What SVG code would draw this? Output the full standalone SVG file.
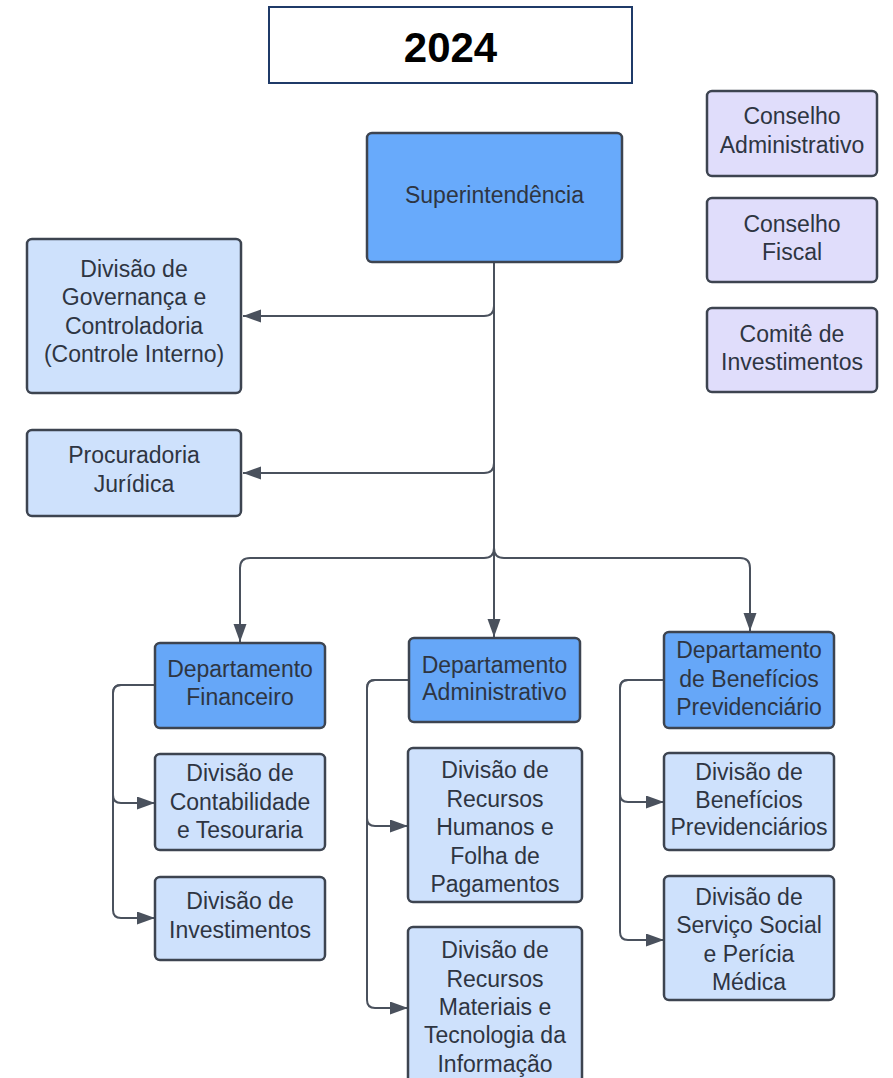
<svg xmlns="http://www.w3.org/2000/svg" width="893" height="1078" viewBox="0 0 893 1078">
<style>
.bx{stroke:#3d4450;stroke-width:2.5}
.sup{fill:#68aafb}
.dep{fill:#66a7f8}
.div{fill:#cee1fc}
.con{fill:#e0ddfb}
.t{font-family:"Liberation Sans",Arial,sans-serif;font-size:23px;fill:#2e3542;text-anchor:middle}
.ln{fill:none;stroke:#4a515d;stroke-width:2}
</style>
<defs>
<marker id="ah" markerUnits="userSpaceOnUse" markerWidth="20" markerHeight="14" refX="18" refY="6.5" orient="auto">
<path d="M0,0 L18,6.5 L0,13 z" fill="#4a515d"/>
</marker>
</defs>
<rect width="893" height="1078" fill="#ffffff"/>

<g id="title">
<rect x="269" y="7" width="363" height="76" fill="#ffffff" stroke="#1f3a68" stroke-width="2"/>
<text x="450.5" y="62" font-family="'Liberation Sans',Arial,sans-serif" font-size="42" font-weight="bold" text-anchor="middle" fill="#000">2024</text>
</g>

<g id="connectors">
<path class="ln" d="M494,262 V637" marker-end="url(#ah)"/>
<path class="ln" d="M494,306 Q494,316 484,316 H243" marker-end="url(#ah)"/>
<path class="ln" d="M494,463 Q494,473 484,473 H243" marker-end="url(#ah)"/>
<path class="ln" d="M494,548 Q494,558 484,558 H250 Q240,558 240,568 V642" marker-end="url(#ah)"/>
<path class="ln" d="M494,548 Q494,558 504,558 H740 Q750,558 750,568 V631" marker-end="url(#ah)"/>
<path class="ln" d="M155,685 H121 Q113,685 113,693 V795 Q113,803 121,803 H155" marker-end="url(#ah)"/>
<path class="ln" d="M155,685 H121 Q113,685 113,693 V910 Q113,918 121,918 H155" marker-end="url(#ah)"/>
<path class="ln" d="M409,680 H375 Q367,680 367,688 V818 Q367,826 375,826 H408" marker-end="url(#ah)"/>
<path class="ln" d="M409,680 H375 Q367,680 367,688 V1000 Q367,1008 375,1008 H408" marker-end="url(#ah)"/>
<path class="ln" d="M664,680 H628 Q620,680 620,688 V794 Q620,802 628,802 H664" marker-end="url(#ah)"/>
<path class="ln" d="M664,680 H628 Q620,680 620,688 V932 Q620,940 628,940 H664" marker-end="url(#ah)"/>
</g>

<g id="superintendencia">
<rect class="bx sup" x="367" y="133" width="255" height="129" rx="5"/>
<text class="t" x="494.5" y="203">Superintendência</text>
</g>

<g id="div-governanca">
<rect class="bx div" x="27" y="239" width="214" height="154" rx="5"/>
<text class="t" x="134" y="277">Divisão de</text>
<text class="t" x="134" y="305">Governança e</text>
<text class="t" x="134" y="334">Controladoria</text>
<text class="t" x="134" y="362">(Controle Interno)</text>
</g>

<g id="procuradoria">
<rect class="bx div" x="27" y="430" width="214" height="86" rx="5"/>
<text class="t" x="134" y="463">Procuradoria</text>
<text class="t" x="134" y="492">Jurídica</text>
</g>

<g id="conselho-adm">
<rect class="bx con" x="707" y="91" width="170" height="85" rx="5"/>
<text class="t" x="792" y="124">Conselho</text>
<text class="t" x="792" y="153">Administrativo</text>
</g>

<g id="conselho-fiscal">
<rect class="bx con" x="707" y="198" width="170" height="84" rx="5"/>
<text class="t" x="792" y="232">Conselho</text>
<text class="t" x="792" y="260">Fiscal</text>
</g>

<g id="comite">
<rect class="bx con" x="707" y="308" width="170" height="84" rx="5"/>
<text class="t" x="792" y="342">Comitê de</text>
<text class="t" x="792" y="370">Investimentos</text>
</g>

<g id="dep-financeiro">
<rect class="bx dep" x="155" y="643" width="170" height="85" rx="5"/>
<text class="t" x="240" y="677">Departamento</text>
<text class="t" x="240" y="705">Financeiro</text>
</g>

<g id="dep-administrativo">
<rect class="bx dep" x="409" y="638" width="171" height="84" rx="5"/>
<text class="t" x="494.5" y="673">Departamento</text>
<text class="t" x="494.5" y="700">Administrativo</text>
</g>

<g id="dep-beneficios">
<rect class="bx dep" x="664" y="632" width="170" height="96" rx="5"/>
<text class="t" x="749" y="658">Departamento</text>
<text class="t" x="749" y="687">de Benefícios</text>
<text class="t" x="749" y="715">Previdenciário</text>
</g>

<g id="div-contabilidade">
<rect class="bx div" x="155" y="754" width="170" height="96" rx="5"/>
<text class="t" x="240" y="781">Divisão de</text>
<text class="t" x="240" y="810">Contabilidade</text>
<text class="t" x="240" y="838">e Tesouraria</text>
</g>

<g id="div-investimentos">
<rect class="bx div" x="155" y="877" width="170" height="83" rx="5"/>
<text class="t" x="240" y="909">Divisão de</text>
<text class="t" x="240" y="938">Investimentos</text>
</g>

<g id="div-rh">
<rect class="bx div" x="408" y="748" width="174" height="154" rx="5"/>
<text class="t" x="495" y="778">Divisão de</text>
<text class="t" x="495" y="807">Recursos</text>
<text class="t" x="495" y="835">Humanos e</text>
<text class="t" x="495" y="864">Folha de</text>
<text class="t" x="495" y="892">Pagamentos</text>
</g>

<g id="div-materiais">
<rect class="bx div" x="408" y="927" width="174" height="165" rx="5"/>
<text class="t" x="495" y="958">Divisão de</text>
<text class="t" x="495" y="987">Recursos</text>
<text class="t" x="495" y="1015">Materiais e</text>
<text class="t" x="495" y="1043">Tecnologia da</text>
<text class="t" x="495" y="1072">Informação</text>
</g>

<g id="div-beneficios">
<rect class="bx div" x="664" y="753" width="170" height="97" rx="5"/>
<text class="t" x="749" y="780">Divisão de</text>
<text class="t" x="749" y="808">Benefícios</text>
<text class="t" x="749" y="835">Previdenciários</text>
</g>

<g id="div-servico-social">
<rect class="bx div" x="664" y="876" width="170" height="124" rx="5"/>
<text class="t" x="749" y="905">Divisão de</text>
<text class="t" x="749" y="933">Serviço Social</text>
<text class="t" x="749" y="962">e Perícia</text>
<text class="t" x="749" y="990">Médica</text>
</g>
</svg>
